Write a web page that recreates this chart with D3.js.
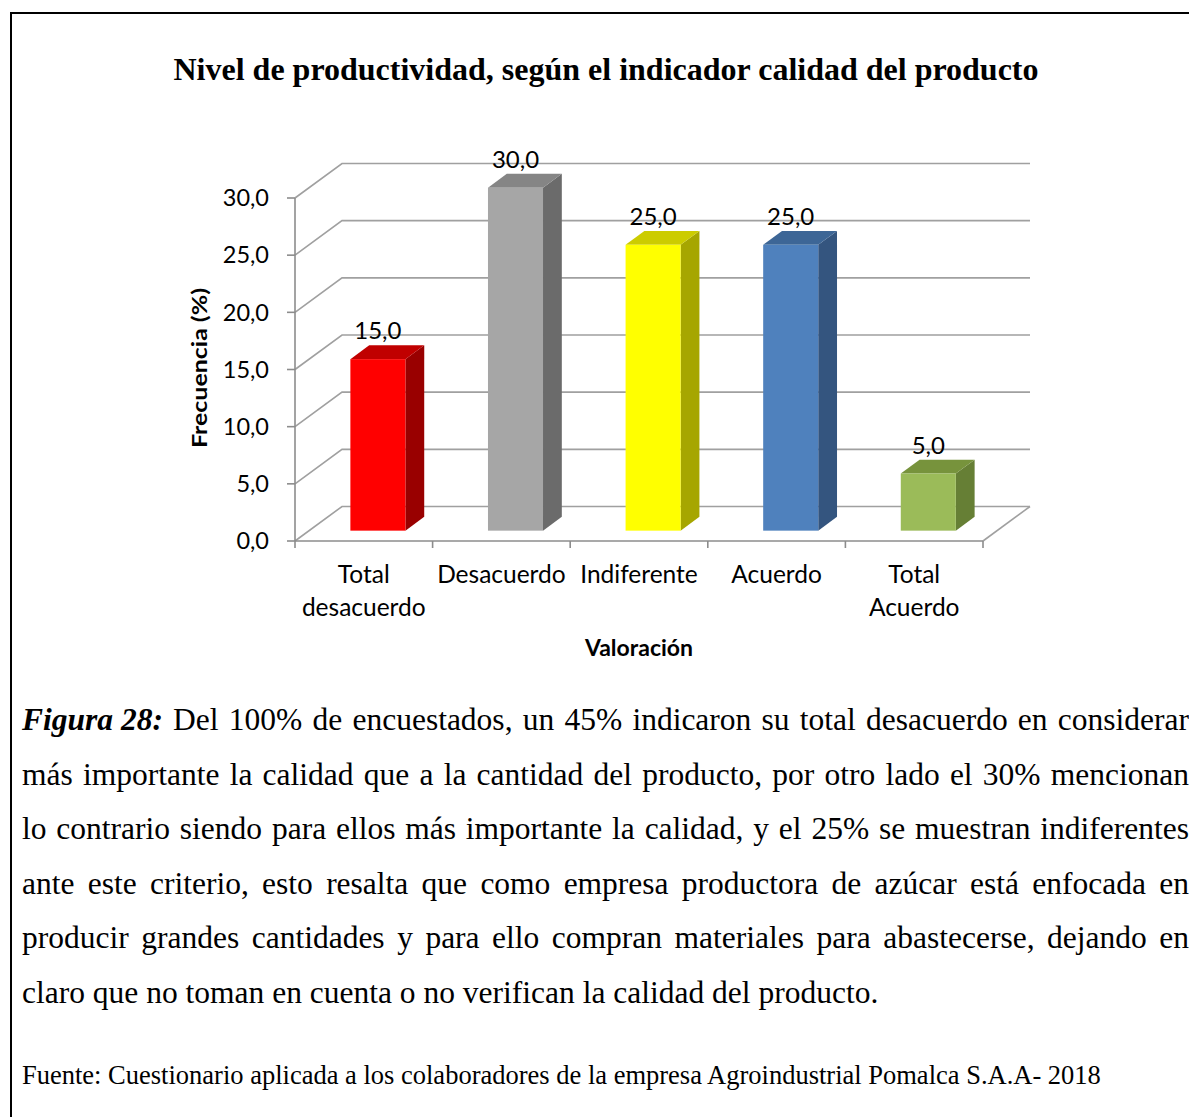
<!DOCTYPE html>
<html>
<head>
<meta charset="utf-8">
<script src="https://cdn.jsdelivr.net/npm/d3@7"></script>
<style>
  body { margin: 0; background: #fff; }
  svg { display: block; }
</style>
</head>
<body>
<svg id="chart" width="1189" height="1117"></svg>
<script>
var CATEGORIES = [['Total', 'desacuerdo'], ['Desacuerdo'], ['Indiferente'], ['Acuerdo'], ['Total', 'Acuerdo']];
var VALUES = [15, 30, 25, 25, 5];
var Y_TICKS = [0, 5, 10, 15, 20, 25, 30];
var VALUE_LABELS = ['15,0', '30,0', '25,0', '25,0', '5,0'];
var TICK_LABELS = ['0,0', '5,0', '10,0', '15,0', '20,0', '25,0', '30,0'];

var CAPTION = [
  'Del 100% de encuestados, un 45% indicaron su total desacuerdo en considerar',
  'más importante la calidad que a la cantidad del producto, por otro lado el 30% mencionan',
  'lo contrario siendo para ellos más importante la calidad, y el 25% se muestran indiferentes',
  'ante este criterio, esto resalta que como empresa productora de azúcar está enfocada en',
  'producir grandes cantidades y para ello compran materiales para abastecerse, dejando en',
  'claro que no toman en cuenta o no verifican la calidad del producto.'
];

// front / top / side shades per bar
var PALETTE = [
  ['#ff0000', '#c00000', '#990000'],
  ['#a6a6a6', '#858585', '#6b6b6b'],
  ['#ffff00', '#cccc00', '#a6a600'],
  ['#4f81bd', '#3d6696', '#34557f'],
  ['#9bbb59', '#77933c', '#667f35']
];

var SANS = 'Lato, "Open Sans", sans-serif';
var SERIF = '"Liberation Serif", "Times New Roman", serif';

var svg = d3.select('#chart');

// frame (runs off the right and bottom edge)
svg.append('rect')
  .attr('x', 11).attr('y', 13)
  .attr('width', 1300).attr('height', 1300)
  .attr('fill', 'none').attr('stroke', '#000').attr('stroke-width', 2);

svg.append('text')
  .attr('x', 606).attr('y', 80)
  .attr('text-anchor', 'middle')
  .style('font-family', SERIF).style('font-weight', 'bold').style('font-size', '32px')
  .text('Nivel de productividad, según el indicador calidad del producto');

// 3d plot geometry
var DX = 47, DY = 34.5;
var Z1 = 0.3, Z2 = 0.7;

var x = d3.scaleBand()
  .domain(d3.range(VALUES.length))
  .range([295, 983])
  .paddingInner(0.6)
  .paddingOuter(0.3);

var y = d3.scaleLinear().domain([0, 30]).range([541, 198]);

function px(xv, z) { return xv + z * DX; }
function py(v, z) { return y(v) - z * DY; }

var grid = svg.append('g')
  .attr('fill', 'none')
  .attr('stroke', '#a0a0a0')
  .attr('stroke-width', 1.6);

grid.selectAll('.gl').data(Y_TICKS).enter().append('polyline')
  .attr('class', 'gl')
  .attr('points', function(t) {
    return [[px(295, 0), py(t, 0)], [px(295, 1), py(t, 1)], [px(983, 1), py(t, 1)]].join(' ');
  });

grid.append('line')
  .attr('x1', px(983, 0)).attr('y1', py(0, 0))
  .attr('x2', px(983, 1)).attr('y2', py(0, 1));

// axes
var axis = svg.append('g').attr('stroke', '#8c8c8c').attr('stroke-width', 1.6);
axis.append('line').attr('x1', 295).attr('x2', 295).attr('y1', y(0)).attr('y2', y(30));
axis.append('line').attr('x1', 295).attr('x2', 983).attr('y1', y(0)).attr('y2', y(0));
axis.selectAll('.yt').data(Y_TICKS).enter().append('line')
  .attr('x1', 287).attr('x2', 295)
  .attr('y1', function(t) { return y(t); }).attr('y2', function(t) { return y(t); });
axis.selectAll('.xt').data(d3.range(VALUES.length + 1)).enter().append('line')
  .attr('x1', function(i) { return 295 + i * x.step(); })
  .attr('x2', function(i) { return 295 + i * x.step(); })
  .attr('y1', y(0)).attr('y2', y(0) + 7);

svg.selectAll('.ylab').data(Y_TICKS).enter().append('text')
  .attr('x', 269).attr('y', function(t) { return y(t); })
  .attr('dy', '0.35em').attr('text-anchor', 'end')
  .style('font-family', SANS).style('font-size', '23.5px')
  .text(function(t, i) { return TICK_LABELS[i]; });

svg.append('text')
  .attr('transform', 'translate(207,368) rotate(-90)')
  .attr('text-anchor', 'middle')
  .attr('textLength', 160).attr('lengthAdjust', 'spacingAndGlyphs')
  .style('font-family', SANS).style('font-weight', 'bold').style('font-size', '21px')
  .text('Frecuencia (%)');

// bars
var bars = svg.selectAll('.bar').data(VALUES).enter().append('g').attr('class', 'bar');

bars.append('polygon')
  .attr('fill', function(d, i) { return PALETTE[i][2]; })
  .attr('points', function(d, i) {
    var x1 = x(i) + x.bandwidth();
    return [[px(x1, Z1), py(d, Z1)], [px(x1, Z2), py(d, Z2)], [px(x1, Z2), py(0, Z2)], [px(x1, Z1), py(0, Z1)]].join(' ');
  });

bars.append('polygon')
  .attr('fill', function(d, i) { return PALETTE[i][1]; })
  .attr('points', function(d, i) {
    var x0 = x(i), x1 = x(i) + x.bandwidth();
    return [[px(x0, Z1), py(d, Z1)], [px(x1, Z1), py(d, Z1)], [px(x1, Z2), py(d, Z2)], [px(x0, Z2), py(d, Z2)]].join(' ');
  });

bars.append('rect')
  .attr('fill', function(d, i) { return PALETTE[i][0]; })
  .attr('x', function(d, i) { return px(x(i), Z1); })
  .attr('y', function(d) { return py(d, Z1); })
  .attr('width', x.bandwidth())
  .attr('height', function(d) { return y(0) - y(d); });

bars.append('text')
  .attr('x', function(d, i) { return px(x(i) + x.bandwidth() / 2, Z1); })
  .attr('y', function(d) { return py(d, Z2) - 6; })
  .attr('text-anchor', 'middle')
  .style('font-family', SANS).style('font-size', '24px')
  .text(function(d, i) { return VALUE_LABELS[i]; });

// category labels
CATEGORIES.forEach(function(lines, i) {
  lines.forEach(function(s, j) {
    svg.append('text')
      .attr('x', x(i) + x.bandwidth() / 2)
      .attr('y', 583 + j * 33)
      .attr('text-anchor', 'middle')
      .style('font-family', SANS).style('font-size', '24.5px')
      .text(s);
  });
});

svg.append('text')
  .attr('x', 639).attr('y', 656)
  .attr('text-anchor', 'middle')
  .style('font-family', SANS).style('font-weight', 'bold').style('font-size', '23px')
  .text('Valoración');

// caption, justified word by word
var LEFT = 22, RIGHT = 1189, LINE0 = 730, LEAD = 54.6;
CAPTION.forEach(function(line, li) {
  var last = li === CAPTION.length - 1;
  var g = svg.append('g').attr('transform', 'translate(' + LEFT + ',' + (LINE0 + li * LEAD) + ')');
  if (last) {
    g.append('text')
      .style('font-family', SERIF).style('font-size', '31.5px')
      .text(line);
    return;
  }
  var words = line.split(' ').map(function(w) { return { t: w, b: false }; });
  if (li === 0) words.unshift({ t: 'Figura 28:', b: true });
  var nodes = words.map(function(w) {
    return g.append('text')
      .style('font-family', SERIF).style('font-size', '31.5px')
      .style('font-weight', w.b ? 'bold' : 'normal')
      .style('font-style', w.b ? 'italic' : 'normal')
      .text(w.t);
  });
  var widths = nodes.map(function(n) { return n.node().getComputedTextLength(); });
  var gap = (RIGHT - LEFT - d3.sum(widths)) / (nodes.length - 1);
  var cx = 0;
  nodes.forEach(function(n, i) {
    n.attr('x', cx);
    cx += widths[i] + gap;
  });
});

svg.append('text')
  .attr('x', 22).attr('y', 1084)
  .style('font-family', SERIF).style('font-size', '26.5px')
  .text('Fuente: Cuestionario aplicada a los colaboradores de la empresa Agroindustrial Pomalca S.A.A- 2018');
</script>
</body>
</html>
